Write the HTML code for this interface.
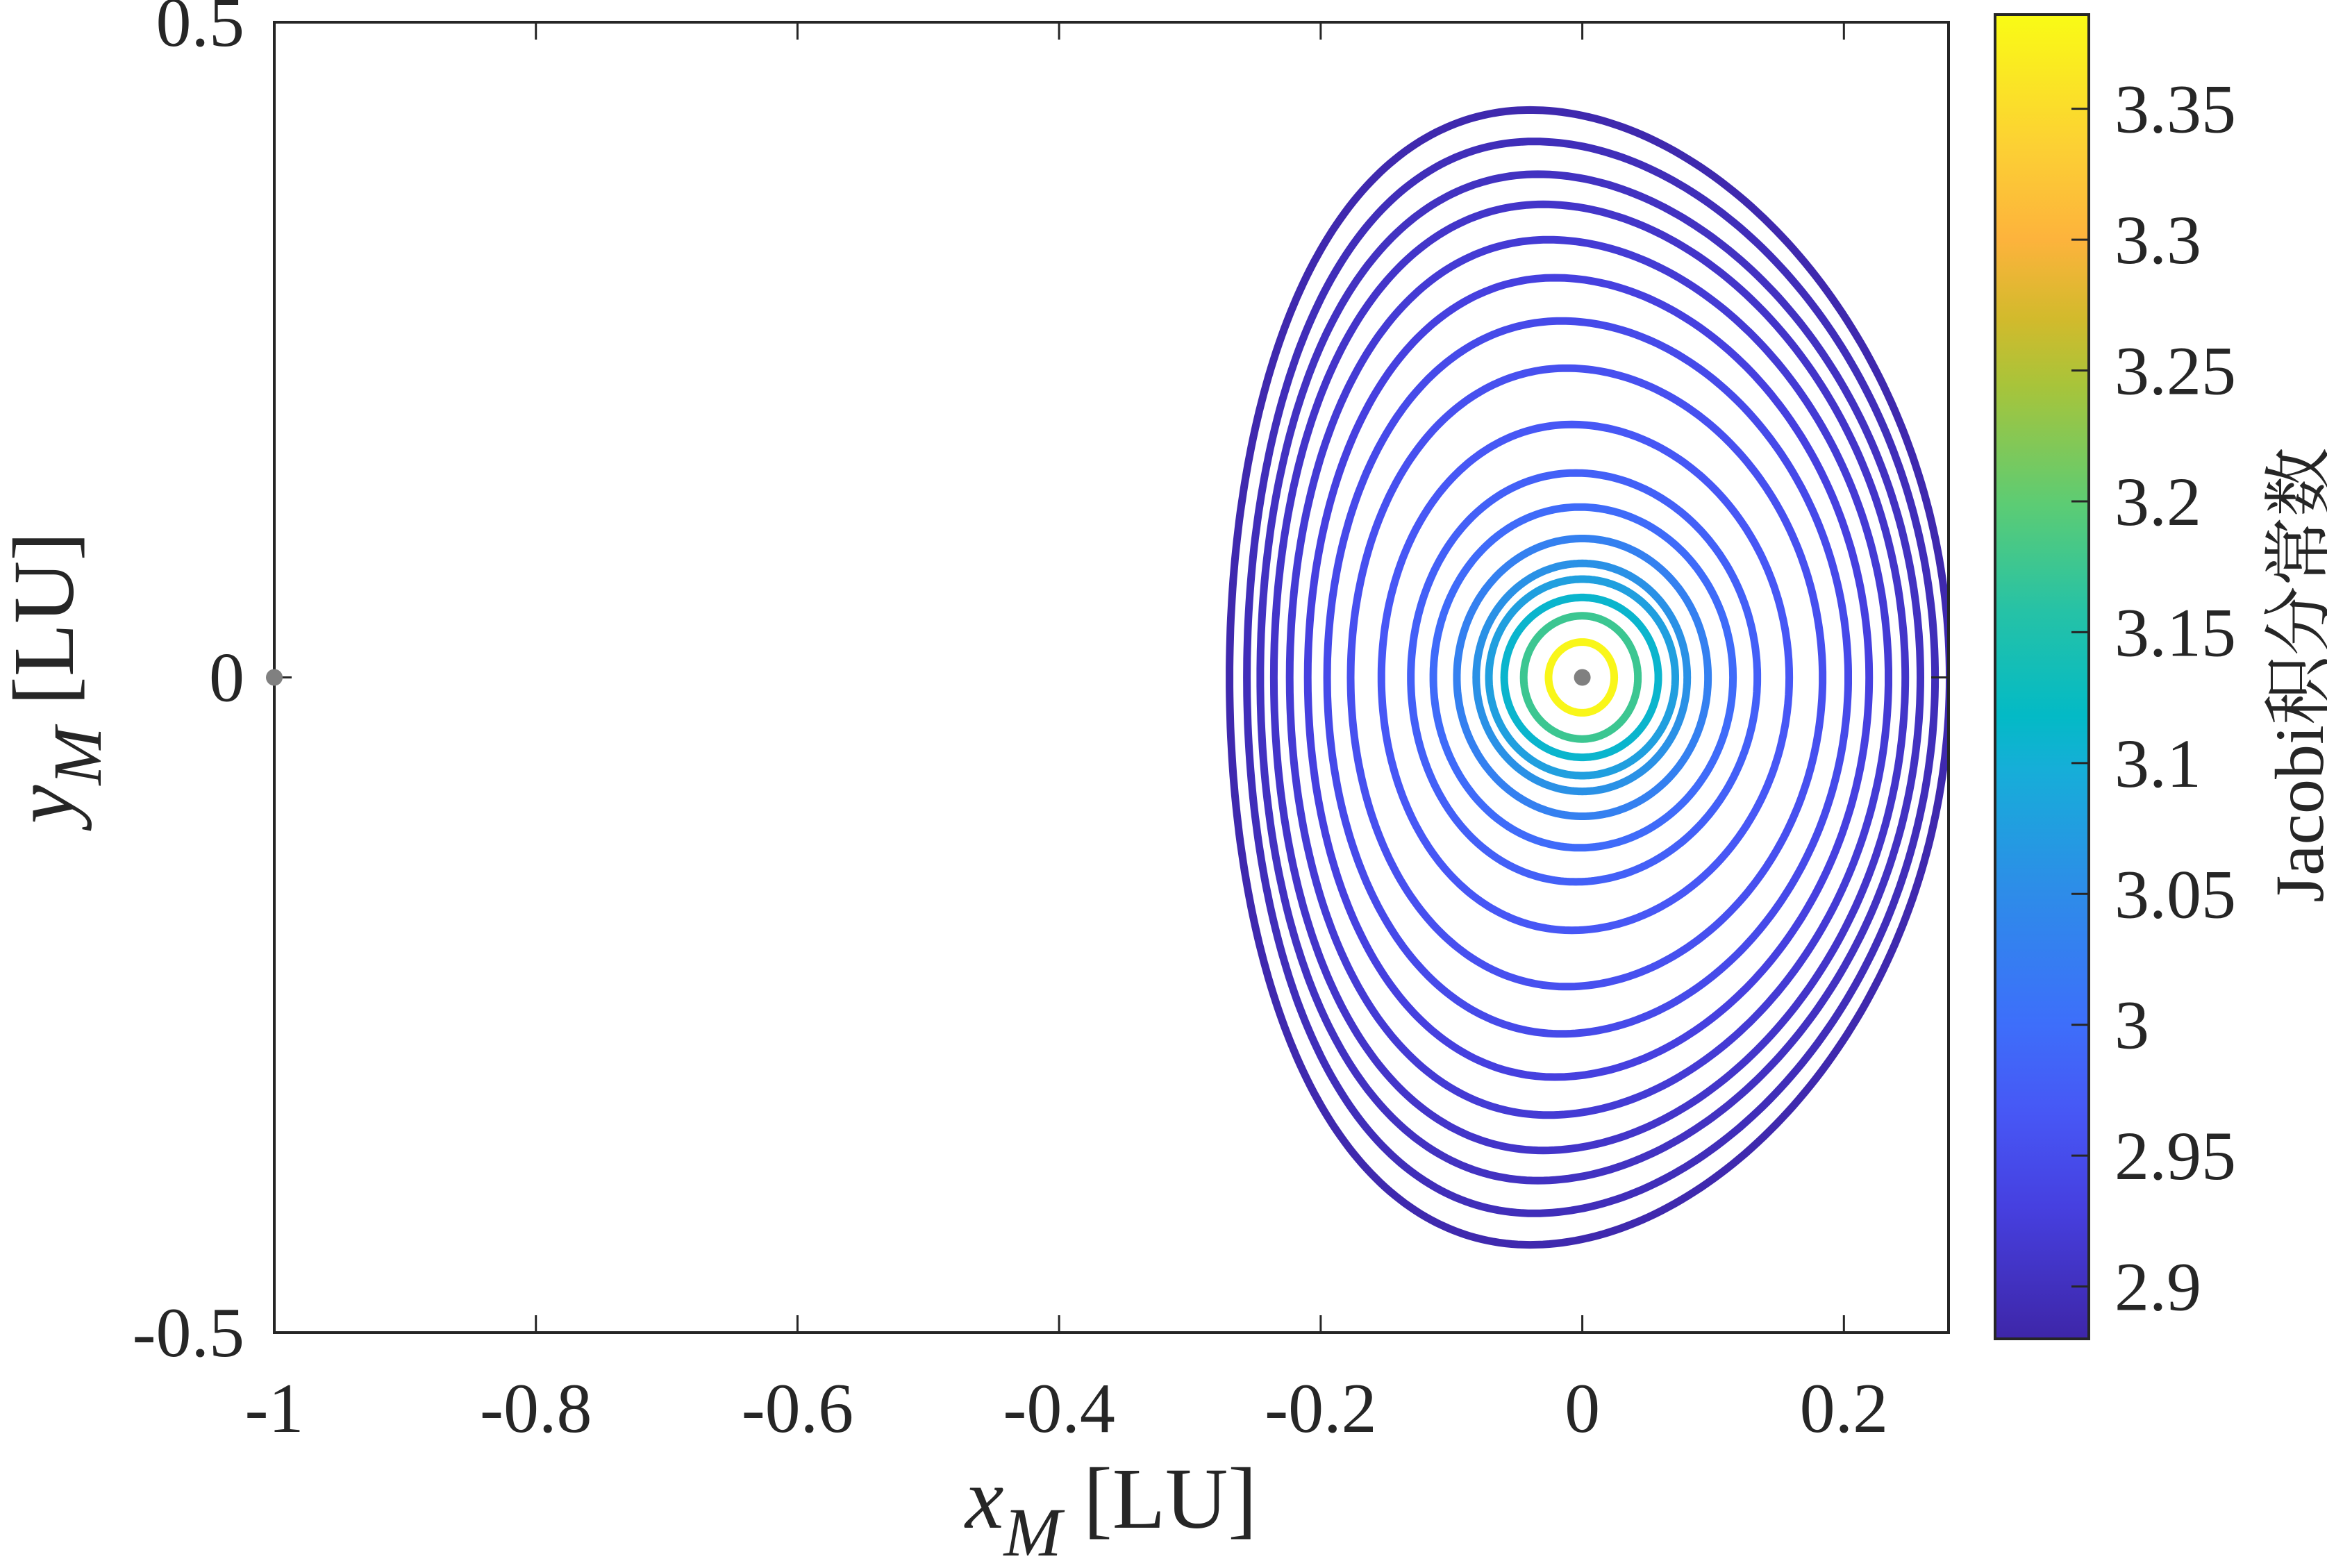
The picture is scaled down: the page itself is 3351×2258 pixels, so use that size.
<!DOCTYPE html>
<html><head><meta charset="utf-8"><style>
html,body{margin:0;padding:0;background:#fff;}
svg{display:block;}
text{font-family:"Liberation Serif","Noto Serif CJK SC",serif;fill:#262626;}
</style></head><body>
<svg id="chart" width="3351" height="2258" viewBox="0 0 3351 2258" xmlns="http://www.w3.org/2000/svg">
<defs>
<clipPath id="plotclip"><rect x="395" y="32" width="2411" height="1887"/></clipPath>
<linearGradient id="parula" x1="0" y1="1" x2="0" y2="0"></linearGradient>
</defs>
<rect x="0" y="0" width="3351" height="2258" fill="#fff"/>
<g id="orbits" clip-path="url(#plotclip)"></g>
<g id="axes"></g>
<g id="cbar"></g>
<text x="1600" y="2200" text-anchor="middle" font-size="125"><tspan font-style="italic">x</tspan><tspan font-style="italic" font-size="100" dy="40">M</tspan><tspan dy="-40"> [LU]</tspan></text>
<text transform="translate(105,976) rotate(-90)" text-anchor="middle" font-size="125"><tspan font-style="italic">y</tspan><tspan font-style="italic" font-size="100" dy="40">M</tspan><tspan dy="-40"> [LU]</tspan></text>
<text transform="translate(3345,972) rotate(-90)" text-anchor="middle" font-size="100">Jacobi积分常数</text>
</svg>
<script>
// Data (inner -> outer orbits)
const jacobi = [3.38,3.175,3.11,3.077,3.057,3.03,2.996,2.98,2.966,2.956,2.946,2.93,2.92,2.91,2.903,2.895,2.885];
const xRight = [0.0244,0.0425,0.0581,0.0711,0.0802,0.0961,0.1152,0.1338,0.1582,0.1837,0.2033,0.2193,0.2341,0.2469,0.2585,0.2697,0.2808];
const xLeft = [0.0258,0.0448,0.0597,0.0714,0.0811,0.0959,0.1139,0.1311,0.1536,0.1771,0.1951,0.2099,0.2237,0.2358,0.2462,0.2564,0.2697];
const yHalf = [0.027,0.047,0.061,0.075,0.087,0.106,0.130,0.156,0.193,0.236,0.272,0.305,0.334,0.361,0.384,0.409,0.433];
const topShift = [0,0,0,0,0,0,0.002,0.005,0.008,0.012,0.016,0.021,0.026,0.030,0.034,0.037,0.040];
const xTicks = [-1,-0.8,-0.6,-0.4,-0.2,0,0.2];
const xTickLabels = ["-1","-0.8","-0.6","-0.4","-0.2","0","0.2"];
const yTicks = [-0.5,0,0.5];
const yTickLabels = ["-0.5","0","0.5"];
const cTicks = [2.9,2.95,3,3.05,3.1,3.15,3.2,3.25,3.3,3.35];
const cTickLabels = ["2.9","2.95","3","3.05","3.1","3.15","3.2","3.25","3.3","3.35"];
const primaries = [[-1,0],[0,0]];

const NS="http://www.w3.org/2000/svg";
const X0=395,X1=2806,Y0=32,Y1=1919;
const xmin=-1,xmax=0.28,ymin=-0.5,ymax=0.5;
const sx=v=>X0+(v-xmin)/(xmax-xmin)*(X1-X0);
const sy=v=>Y1-(v-ymin)/(ymax-ymin)*(Y1-Y0);
const CB={x0:2873,x1:3008,y0:21,y1:1928,vmin:2.88,vmax:3.386};
const sc=v=>CB.y1-(v-CB.vmin)/(CB.vmax-CB.vmin)*(CB.y1-CB.y0);
const cmap=[[0,"#3e26a8"],[0.10,"#4640e0"],[0.17,"#4757f5"],[0.24,"#3d6ffa"],[0.34,"#2d8de8"],[0.43,"#16aed8"],[0.47,"#03bac6"],[0.55,"#26c2a6"],[0.63,"#5ccc74"],[0.72,"#a8c43a"],[0.77,"#d2ba2c"],[0.83,"#fdb33c"],[0.90,"#fcd034"],[1,"#f9fb15"]];
function hex2rgb(h){return [1,3,5].map(i=>parseInt(h.substr(i,2),16));}
function colorAt(v){
  let t=(v-CB.vmin)/(CB.vmax-CB.vmin); t=Math.max(0,Math.min(1,t));
  for(let i=1;i<cmap.length;i++){ if(t<=cmap[i][0]){
    const a=cmap[i-1],b=cmap[i],f=(t-a[0])/(b[0]-a[0]);
    const ca=hex2rgb(a[1]),cb=hex2rgb(b[1]);
    return "rgb("+ca.map((c,k)=>Math.round(c+(cb[k]-c)*f)).join(",")+")";}}
  return cmap[cmap.length-1][1];
}
function mk(tag,attrs,parent){const e=document.createElementNS(NS,tag);for(const k in attrs)e.setAttribute(k,attrs[k]);parent.appendChild(e);return e;}

// orbits (draw outer first)
const og=document.getElementById("orbits");
for(let i=jacobi.length-1;i>=0;i--){
  let d="";
  for(let k=0;k<=360;k++){
    const t=k/360*2*Math.PI,c=Math.cos(t),s=Math.sin(t);
    const x=(c>=0?xRight[i]:xLeft[i])*c-topShift[i]*s*s;
    const y=yHalf[i]*s;
    d+=(k?"L":"M")+sx(x).toFixed(1)+","+sy(y).toFixed(1);
  }
  const p=mk("path",{d:d+"Z",fill:"none",stroke:colorAt(jacobi[i]),"stroke-width":11},og);
  
  
}
// axes
const ag=document.getElementById("axes");
const box=mk("rect",{x:X0,y:Y0,width:X1-X0,height:Y1-Y0,fill:"none",stroke:"#262626","stroke-width":4},ag);


xTicks.forEach((v,i)=>{
  const x=sx(v);
  mk("line",{x1:x,y1:Y1,x2:x,y2:Y1-25,stroke:"#262626","stroke-width":3},ag);
  mk("line",{x1:x,y1:Y0,x2:x,y2:Y0+25,stroke:"#262626","stroke-width":3},ag);
  const t=mk("text",{x:x,y:2062,"text-anchor":"middle","font-size":102},ag);
  t.textContent=xTickLabels[i];
  
  
});
yTicks.forEach((v,i)=>{
  const y=sy(v);
  mk("line",{x1:X0,y1:y,x2:X0+25,y2:y,stroke:"#262626","stroke-width":3},ag);
  mk("line",{x1:X1,y1:y,x2:X1-25,y2:y,stroke:"#262626","stroke-width":3},ag);
  const t=mk("text",{x:352,y:y+34,"text-anchor":"end","font-size":102},ag);
  t.textContent=yTickLabels[i];
  
  
});
primaries.forEach((p,i)=>{
  const c=mk("circle",{cx:sx(p[0]),cy:sy(p[1]),r:12,fill:"#808080"},ag);
  
  
});
// colorbar
const grad=document.getElementById("parula");
cmap.forEach(s=>{mk("stop",{offset:s[0],"stop-color":s[1]},grad);});
const cg=document.getElementById("cbar");
const cr=mk("rect",{x:CB.x0,y:CB.y0,width:CB.x1-CB.x0,height:CB.y1-CB.y0,fill:"url(#parula)",stroke:"#262626","stroke-width":4},cg);


cTicks.forEach((v,i)=>{
  const y=sc(v);
  mk("line",{x1:CB.x1,y1:y,x2:CB.x1-25,y2:y,stroke:"#262626","stroke-width":3},cg);
  const t=mk("text",{x:3045,y:y+34,"font-size":100},cg);
  t.textContent=cTickLabels[i];
  
  
});
</script>
</body></html>
